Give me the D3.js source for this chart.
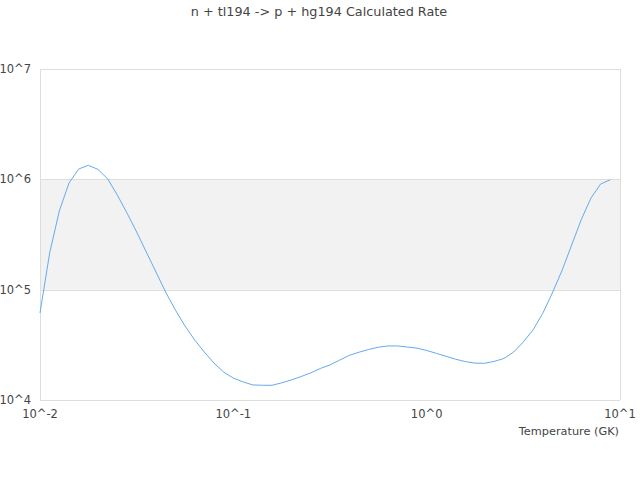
<!DOCTYPE html>
<html><head><meta charset="utf-8">
<script src="https://cdn.jsdelivr.net/npm/d3@7"></script>
<style>body{margin:0;background:#fff;font-family:"DejaVu Sans",sans-serif;}</style>
</head><body><svg id="c" width="640" height="480"></svg>
<script>
const title = "n + tl194 -> p + hg194 Calculated Rate";
const xLabel = "Temperature (GK)";
const temperatures = [0.01,0.01122,0.01259,0.01413,0.01585,0.01778,0.01995,0.02239,0.02512,0.02818,
 0.03162,0.03548,0.03981,0.04467,0.05012,0.05623,0.0631,0.07079,0.07943,0.08913,
 0.1,0.1122,0.1259,0.1413,0.1585,0.1778,0.1995,0.2239,0.2512,0.2818,
 0.3162,0.3548,0.3981,0.4467,0.5012,0.5623,0.631,0.7079,0.7943,0.8913,
 1,1.122,1.259,1.413,1.585,1.778,1.995,2.239,2.512,2.818,
 3.162,3.548,3.981,4.467,5.012,5.623,6.31,7.079,7.943,8.913];
const rates = [6.15e4,2.15e5,5.17e5,9.27e5,1.24e6,1.34e6,1.23e6,1.01e6,7.2e5,4.95e5,
 3.33e5,2.19e5,1.445e5,9.5e4,6.55e4,4.69e4,3.5e4,2.72e4,2.16e4,1.79e4,
 1.58e4,1.46e4,1.37e4,1.36e4,1.36e4,1.43e4,1.52e4,1.63e4,1.76e4,1.93e4,
 2.08e4,2.3e4,2.54e4,2.71e4,2.87e4,3.01e4,3.09e4,3.09e4,3.02e4,2.95e4,
 2.81e4,2.65e4,2.49e4,2.34e4,2.23e4,2.16e4,2.15e4,2.24e4,2.38e4,2.72e4,
 3.36e4,4.31e4,6.08e4,9.33e4,1.49e5,2.54e5,4.33e5,6.78e5,9.08e5,9.9e5];
const xTicks = [0.01,0.1,1,10];
const xTickLabels = ["10^-2","10^-1","10^0","10^1"];
const yTicks = [1e4,1e5,1e6,1e7];
const yTickLabels = ["10^4","10^5","10^6","10^7"];
const band = [1e5,1e6];

const svg = d3.select("#c");
const L=40,R=620,T=69,B=400;
const x = d3.scaleLog().domain([0.01,10]).range([L,R]);
const y = d3.scaleLog().domain([1e4,1e7]).range([B,T]);

svg.append("text").attr("x",319).attr("y",16).attr("text-anchor","middle")
  .attr("font-size",12.8).attr("fill","#444").text(title);

svg.append("rect").attr("x",L).attr("width",R-L)
  .attr("y",y(band[1])).attr("height",y(band[0])-y(band[1])).attr("fill","#f2f2f2");

svg.append("g").selectAll("line").data(yTicks).join("line")
  .attr("x1",L).attr("x2",R).attr("y1",d=>Math.round(y(d))+0.5).attr("y2",d=>Math.round(y(d))+0.5)
  .attr("stroke","#dddddd");
svg.append("line").attr("x1",L+0.5).attr("x2",L+0.5).attr("y1",T).attr("y2",B).attr("stroke","#dddddd");
svg.append("line").attr("x1",R+0.5).attr("x2",R+0.5).attr("y1",T).attr("y2",B).attr("stroke","#dddddd");

svg.append("g").selectAll("text").data(yTicks).join("text")
  .attr("x",31).attr("y",d=>y(d)+4).attr("text-anchor","end")
  .attr("font-size",11.5).attr("fill","#444").text((d,i)=>yTickLabels[i]);
svg.append("g").selectAll("text").data(xTicks).join("text")
  .attr("x",d=>x(d)).attr("y",418).attr("text-anchor","middle")
  .attr("font-size",11.5).attr("fill","#444").text((d,i)=>xTickLabels[i]);
svg.append("text").attr("x",619).attr("y",435).attr("text-anchor","end")
  .attr("font-size",11.3).attr("fill","#444").text(xLabel);

const line = d3.line().x((d,i)=>x(temperatures[i])).y(d=>y(d));
svg.append("path").datum(rates).attr("d",line).attr("fill","none")
  .attr("stroke","#64aaf0").attr("stroke-width",1);
</script></body></html>
